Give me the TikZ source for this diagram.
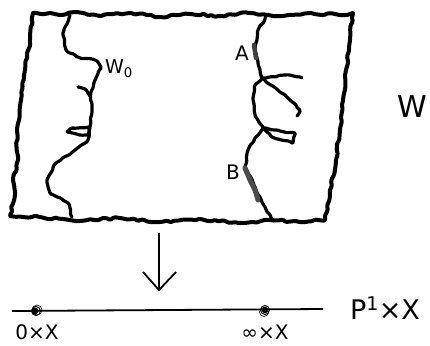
\documentclass[tikz,border=0pt]{standalone}
\usepackage{fontspec}
\setmainfont{DejaVu Sans}
\usetikzlibrary{decorations.pathmorphing}
\begin{document}
\begin{tikzpicture}[x=1pt,y=-1pt,
  rough/.style={line width=4pt,line cap=round,line join=round,rounded corners=1.2pt,decorate,
    decoration={random steps,segment length=4pt,amplitude=1.3pt}},
  thinrough/.style={line width=3.2pt,line cap=round,line join=round,rounded corners=1.2pt,decorate,
    decoration={random steps,segment length=3.5pt,amplitude=1pt}},
  lbl/.style={inner sep=0pt,font=\fontsize{#1}{#1}\selectfont},
  pt/.style={circle,draw,line width=0.9pt,minimum size=9pt,inner sep=0pt}]
\pgfmathsetseed{7}
\useasboundingbox (0,0) rectangle (430,345);
% outer sheet
\draw[rough] plot coordinates {
 (33,13) (60,15) (75,12) (100,16) (130,13) (160,17) (190,14) (220,16) (250,13)
 (280,16) (310,13) (340,15) (353,13)
 (350,40) (346,70) (343,100) (340,130) (336,160) (330,190) (325,220)
 (300,222) (270,220) (240,223) (200,219) (160,222) (120,218) (80,221) (40,217) (10,216)
 (15,195) (13,180) (18,160) (17,130) (21,100) (25,70) (30,40) (33,13)};
% left inner curve W0
\draw[thinrough] plot coordinates {
 (70,15) (63,33) (66,50) (80,58) (95,60) (101,67) (95,80) (91,92) (92,110)
 (90,127) (88,140) (75,150) (56,163) (47,180) (50,193) (68,203) (72,217)};
\draw[thinrough] plot coordinates {(78,87) (85,89) (90,96)};
\draw[thinrough] plot coordinates {(89,127) (72,128) (67,132) (80,135) (88,135) (89,127)};
% right inner curve
\draw[thinrough] plot coordinates {
 (268,14) (258,30) (255,50) (260,70) (262,78) (255,85) (253,98) (255,115) (263,127)
 (255,138) (248,150) (245,167) (255,187) (265,207) (273,221)};
\draw[thinrough] plot coordinates {(262,78) (285,75) (302,78)};
\draw[thinrough] plot coordinates {(262,78) (280,92) (295,104) (300,110) (297,116)};
\draw[thinrough] plot coordinates {(263,128) (280,131) (295,133) (293,143) (272,137) (263,128)};
\draw[line width=4.5pt,black!75,line cap=round] (254,45) -- (256,58);
\draw[line width=5pt,black!70,line cap=round] (245,168) -- (250,180) -- (255,190) -- (258,200);
% labels on sheet
\node[lbl=19] (w0) at (119,69) {W$_{\mathrm{0}}$};
\node[lbl=20] (a) at (242,53) {A};
\node[lbl=20] (b) at (233,172) {B};
\node[lbl=30] (w) at (412,107) {W};
% map arrow
\coordinate (top) at (159,233);
\coordinate (tip) at (159,290);
\draw[line width=1.8pt] (top) -- (tip);
\draw[line width=1.8pt,line join=miter] (143,272) -- (tip) -- (176,272);
% base line
\coordinate (l0) at (12,311);
\coordinate (l1) at (323,309);
\draw[line width=1.8pt] (l0) -- (l1);
\node[pt] (p0) at (36,311) {};
\fill (35,311) circle (3.5pt);
\draw[line width=0.6pt] (37,310) circle (5pt);
\node[pt] (pinf) at (265,310) {};
\fill (265,310) circle (3.3pt);
\draw[line width=0.6pt] (264,312) circle (4.5pt);
\node[lbl=20] (l0x) at (37,332) {0×X};
\node[lbl=20] (linfx) at (265,332) {∞×X};
\node[lbl=27] (base) at (385,308) {P$^{\mathrm{1}}$×X};
\end{tikzpicture}
\end{document}
